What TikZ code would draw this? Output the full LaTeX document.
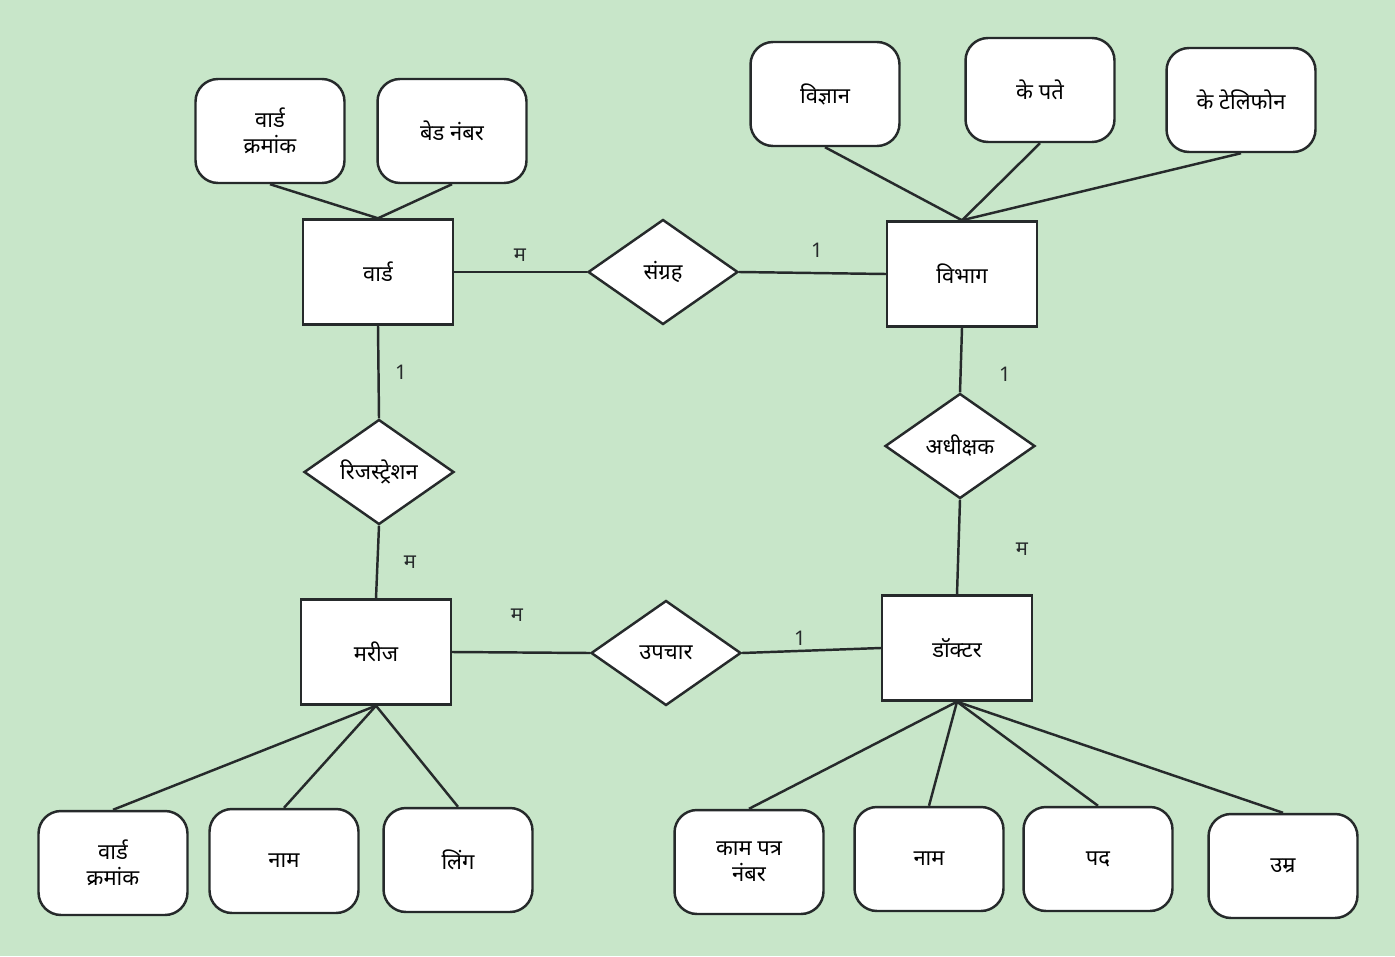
\documentclass[tikz,border=0pt]{standalone}
\usepackage{fontspec}
\usepackage{xcolor}
\usepackage{tikz}
\usetikzlibrary{shapes.geometric}
\newfontfamily\hindi[Script=Devanagari]{Noto Sans}
\definecolor{bgcol}{HTML}{C8E6C9}
\definecolor{linecol}{HTML}{262A2B}

\begin{document}
\begin{tikzpicture}[x=0.02cm, y=-0.02cm, line width=1.4pt, draw=linecol,
    font=\hindi\fontsize{12.5}{14.5}\selectfont,
    entity/.style={draw=linecol, fill=white, rectangle, minimum width=3cm, minimum height=2.1cm, align=center},
    relation/.style={draw=linecol, fill=white, diamond, aspect=1.43, inner sep=0pt, minimum width=3cm, minimum height=2.1cm, align=center},
    attr/.style={draw=linecol, fill=white, rectangle, rounded corners=0.45cm, minimum width=2.98cm, minimum height=2.08cm, align=center},
    card/.style={font=\hindi\fontsize{11.5}{13}\selectfont, text=linecol}]
    \fill[bgcol] (0,0) rectangle (1395,956);
    \useasboundingbox (0,0) rectangle (1395,956);

    % Entities and relationships
    \node[entity] (Ward) at (378,272) {वार्ड};
    \node[relation] (Collect) at (663,272) {संग्रह};
    \node[entity] (Dept) at (962,274) {विभाग};
    \node[relation] (Reg) at (379,472) {रिजस्ट्रेशन};
    \node[relation] (Supt) at (960,446) {अधीक्षक};
    \node[entity] (Patient) at (376,652) {मरीज};
    \node[relation] (Treat) at (666,653) {उपचार};
    \node[entity] (Doctor) at (957,648) {डॉक्टर};

    % Ward attributes
    \node[attr] (WardNo) at (270,131) {वार्ड\\क्रमांक};
    \node[attr] (BedNo) at (452,131) {बेड नंबर};
    % Department attributes
    \node[attr] (DeptSci) at (825,94) {विज्ञान};
    \node[attr] (DeptAddr) at (1040,90) {के पते};
    \node[attr] (DeptTel) at (1241,100) {के टेलिफोन};
    % Patient attributes
    \node[attr] (PWardNo) at (113,863) {वार्ड\\क्रमांक};
    \node[attr] (PName) at (284,861) {नाम};
    \node[attr] (PSex) at (458,860) {लिंग};
    % Doctor attributes
    \node[attr] (DWork) at (749,862) {काम पत्र\\नंबर};
    \node[attr] (DName) at (929,859) {नाम};
    \node[attr] (DPost) at (1098,859) {पद};
    \node[attr] (DAge) at (1283,866) {उम्र};

    % Attribute links
    \draw (WardNo.south) -- (Ward.north);
    \draw (BedNo.south) -- (Ward.north);
    \draw (DeptSci.south) -- (Dept.north);
    \draw (DeptAddr.south) -- (Dept.north);
    \draw (DeptTel.south) -- (Dept.north);
    \draw (PWardNo.north) -- (Patient.south);
    \draw (PName.north) -- (Patient.south);
    \draw (PSex.north) -- (Patient.south);
    \draw (DWork.north) -- (Doctor.south);
    \draw (DName.north) -- (Doctor.south);
    \draw (DPost.north) -- (Doctor.south);
    \draw (DAge.north) -- (Doctor.south);

    % Relationship links
    \draw (Ward.east) -- (Collect.west);
    \draw (Collect.east) -- (Dept.west);
    \draw (Ward.south) -- (Reg.north);
    \draw (Reg.south) -- (Patient.north);
    \draw (Dept.south) -- (Supt.north);
    \draw (Supt.south) -- (Doctor.north);
    \draw (Patient.east) -- (Treat.west);
    \draw (Treat.east) -- (Doctor.west);

    % Cardinalities
    \node[card] (c1) at (520,255) {म};
    \node[card] (c2) at (817,250) {1};
    \node[card] (c3) at (401,372) {1};
    \node[card] (c4) at (410,562) {म};
    \node[card] (c5) at (1005,374) {1};
    \node[card] (c6) at (1022,549) {म};
    \node[card] (c7) at (517,615) {म};
    \node[card] (c8) at (800,638) {1};
\end{tikzpicture}
\end{document}
